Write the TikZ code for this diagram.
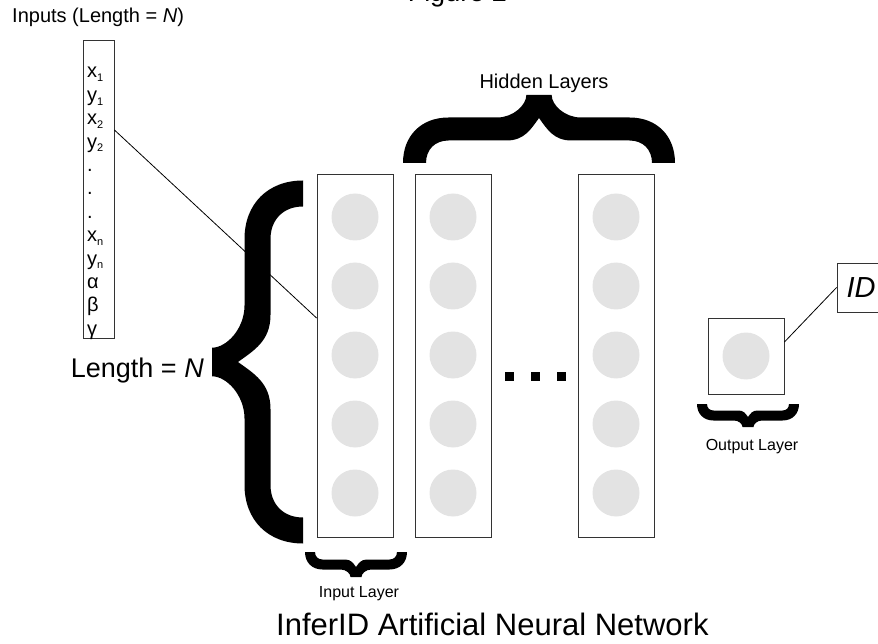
\documentclass[tikz,border=0pt]{standalone}
\usepackage{fontspec}
\setmainfont{Liberation Sans}
\definecolor{neurongray}{HTML}{E3E3E3}
\definecolor{boxline}{HTML}{333333}
% filled curly brace: tip at (#1,#2), half length #3, depth #4, thickness #5, rotation #6
\newcommand\FilledBrace[6]{%
  \begin{scope}[shift={(#1,#2)},rotate=#6]
    \pgfmathsetmacro\brL{#3}\pgfmathsetmacro\brD{#4}\pgfmathsetmacro\brT{#5}
    \pgfmathsetmacro\brA{(\brD-\brT)/2}
    \pgfmathsetmacro\brB{\brA+\brT}
    \pgfmathsetmacro\brRo{\brD-\brA}
    \pgfmathsetmacro\brRi{\brD-\brB}
    \pgfmathsetmacro\brF{0.55*\brT}
    \pgfmathsetmacro\brS{\brF+1.3*\brA}
    \pgfmathsetmacro\brSi{1.45*\brA}
    \fill[black]
      (\brD,-\brL)
      .. controls ({\brA+0.4*\brRo},-\brL) and (\brA,{-\brL+0.4*\brRo}) .. (\brA,{-\brL+\brRo})
      -- (\brA,-\brS)
      .. controls (\brA,{-\brS+0.55*(\brS-\brF)}) and ({0.45*\brA},-\brF) .. (0,-\brF)
      -- (0,\brF)
      .. controls ({0.45*\brA},\brF) and (\brA,{\brS-0.55*(\brS-\brF)}) .. (\brA,\brS)
      -- (\brA,{\brL-\brRo})
      .. controls (\brA,{\brL-0.4*\brRo}) and ({\brA+0.4*\brRo},\brL) .. (\brD,\brL)
      -- (\brD,{\brL-\brT})
      .. controls ({\brB+0.4*\brRi},{\brL-\brT}) and (\brB,{\brL-\brT-0.4*\brRi}) .. (\brB,{\brL-\brT-\brRi})
      -- (\brB,\brSi)
      .. controls (\brB,{0.45*\brSi}) and ({\brT+0.5*\brA},{0.25*\brSi}) .. (\brT,0)
      .. controls ({\brT+0.5*\brA},{-0.25*\brSi}) and (\brB,{-0.45*\brSi}) .. (\brB,-\brSi)
      -- (\brB,{-\brL+\brT+\brRi})
      .. controls (\brB,{-\brL+\brT+0.4*\brRi}) and ({\brB+0.4*\brRi},{-\brL+\brT}) .. (\brD,{-\brL+\brT})
      -- cycle;
  \end{scope}}
\newcommand\vsub[2]{#1\raisebox{-0.35ex}{\fontsize{11}{11}\selectfont #2}}
\begin{document}
\begin{tikzpicture}[x=1pt,y=-1pt,
  layerbox/.style={draw=boxline, line width=0.9pt, minimum width=76pt, minimum height=363pt, inner sep=0pt},
  neuron/.style={circle, fill=neurongray, minimum size=47pt, inner sep=0pt},
  dotsq/.style={fill=black, minimum size=9pt, inner sep=0pt},
  vecitem/.style={anchor=base west, inner sep=0pt, font=\fontsize{20}{20}\selectfont},
  conn/.style={draw=black, line width=0.8pt},
  txt/.style={inner sep=0pt}]
\useasboundingbox (0,0) rectangle (878,644);

% top label (cut off)
\node[txt, anchor=base east, font=\fontsize{27}{27}\selectfont] (fig) at (507,2) {Figure 2};

% input vector
\node[txt, anchor=base west, font=\fontsize{20}{20}\selectfont] (inlbl) at (12,23) {Inputs (Length = \textit{N})};
\node[draw=boxline, line width=0.9pt, minimum width=31pt, minimum height=298pt, inner sep=0pt] (vec) at (98.5,189) {};
\node[vecitem] (e1) at (87,78.0) {\vsub{x}{1}};
\node[vecitem] (e2) at (87,101.4) {\vsub{y}{1}};
\node[vecitem] (e3) at (87,124.8) {\vsub{x}{2}};
\node[vecitem] (e4) at (87,148.2) {\vsub{y}{2}};
\node[vecitem] (e5) at (87,171.6) {.};
\node[vecitem] (e6) at (87,195.0) {.};
\node[vecitem] (e7) at (87,218.4) {.};
\node[vecitem] (e8) at (87,241.8) {\vsub{x}{n}};
\node[vecitem] (e9) at (87,265.2) {\vsub{y}{n}};
\node[vecitem] (e10) at (87,288.6) {α};
\node[vecitem] (e11) at (87,312.0) {β};
\node[vecitem] (e12) at (87,335.4) {γ};

% layers
\node[layerbox] (L1) at (355,355.5) {};
\node[layerbox] (L2) at (453,355.5) {};
\node[layerbox] (L3) at (616,355.5) {};
\foreach \lx/\ln in {355/a,453/b,616/c}{
  \foreach \ny [count=\k] in {217,286,355,424,493}{
    \node[neuron] (n\ln\k) at (\lx,\ny) {};
  }
}
\node[dotsq] (d1) at (509.5,376.5) {};
\node[dotsq] (d2) at (535.5,376.5) {};
\node[dotsq] (d3) at (561.5,376.5) {};

% output
\node[draw=boxline, line width=0.9pt, minimum size=76pt, inner sep=0pt] (outbox) at (746,356) {};
\node[neuron] (nout) at (746,356) {};
\node[draw=boxline, line width=0.9pt, minimum width=48pt, minimum height=49pt, inner sep=0pt,
      font=\fontsize{29}{29}\selectfont\itshape] (idbox) at (861,287.5) {ID};

% connectors
\coordinate (lvlA) at (0,130);
\coordinate (lvlB) at (0,318);
\coordinate (lvlC) at (0,342);
\draw[conn] (vec.east |- lvlA) -- (L1.west |- lvlB);
\draw[conn] (outbox.east |- lvlC) -- (idbox.west);

% braces
\FilledBrace{212}{362}{181.5}{91}{26}{0}
\FilledBrace{539}{95}{136}{68}{23}{-90}
\FilledBrace{356}{577}{51}{25}{10}{90}
\FilledBrace{748}{427}{51}{23}{10}{90}

% labels
\node[txt, anchor=base east, font=\fontsize{27}{27}\selectfont] (lenlbl) at (204,377) {Length = \textit{N}};
\node[txt, anchor=base, font=\fontsize{20}{20}\selectfont] (hidlbl) at (544,89) {Hidden Layers};
\node[txt, anchor=base, font=\fontsize{16}{16}\selectfont] (inlayer) at (359,597) {Input Layer};
\node[txt, anchor=base, font=\fontsize{16}{16}\selectfont] (outlayer) at (752,450) {Output Layer};
\node[txt, anchor=base west, font=\fontsize{31}{31}\selectfont] (title) at (276,635) {InferID Artificial Neural Network};
\end{tikzpicture}
\end{document}
